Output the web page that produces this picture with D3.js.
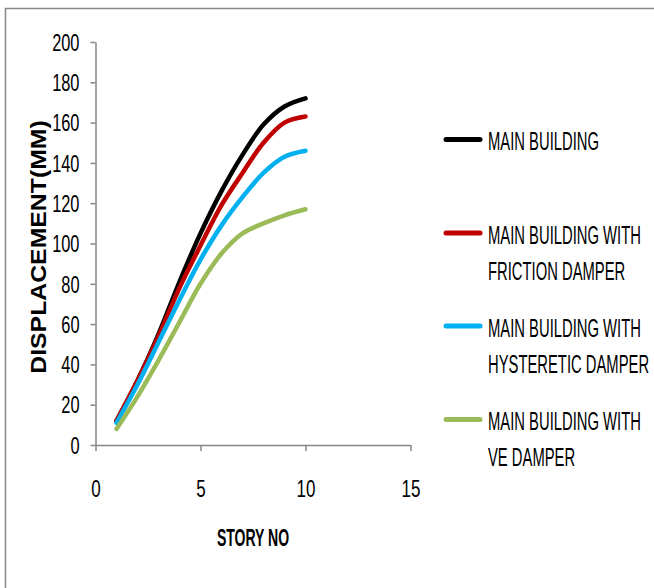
<!DOCTYPE html>
<html>
<head>
<meta charset="utf-8">
<script src="https://cdnjs.cloudflare.com/ajax/libs/d3/7.8.5/d3.min.js"></script>
<style>
  html, body { margin: 0; padding: 0; background: #fff; }
  svg { display: block; }
</style>
</head>
<body>
<div class="container"></div>
<script>
// data
const stories = [1, 2, 3, 4, 5, 6, 7, 8, 9, 10];
const mainBuilding = [12, 32, 55, 81, 105, 126, 144, 159, 168, 172];
const frictionDamper = [12, 32, 54, 78, 99, 119, 135, 150, 160, 163];
const hystereticDamper = [11, 30, 51, 72, 92, 109, 123, 135, 143, 146];
const veDamper = [8, 24, 42, 61, 80, 95, 105, 110, 114, 117];
const seriesNames = [
    ["MAIN BUILDING"],
    ["MAIN BUILDING WITH", "FRICTION DAMPER"],
    ["MAIN BUILDING WITH", "HYSTERETIC DAMPER"],
    ["MAIN BUILDING WITH", "VE DAMPER"]
];
const xTicks = [0, 5, 10, 15];
const yTicks = [0, 20, 40, 60, 80, 100, 120, 140, 160, 180, 200];

const colors = ["#000000", "#C00000", "#00B0F0", "#9BBB59"];
const axisColor = "#868686";
const font = "'Liberation Sans', Arial, sans-serif";

function drawChart() {
    let width = 654;
    let height = 588;

    let svg = d3.select(".container").append("svg")
        .attr("width", width)
        .attr("height", height);

    // chart area border (runs off the right and bottom edges)
    svg.append("rect")
        .attr("x", 5.5)
        .attr("y", 8.5)
        .attr("width", 720)
        .attr("height", 640)
        .attr("fill", "#fff")
        .attr("stroke", axisColor)
        .attr("stroke-width", 1.5);

    let x = d3.scaleLinear().domain([0, 15]).range([95.5, 410.5]);
    let y = d3.scaleLinear().domain([0, 200]).range([445, 42]);

    // y axis
    let yAxis = svg.append("g")
        .attr("transform", "translate(" + x(0) + ",0)")
        .call(d3.axisLeft(y).tickValues(yTicks).tickSize(5).tickSizeOuter(0));
    // x axis
    let xAxis = svg.append("g")
        .attr("transform", "translate(0," + y(0) + ")")
        .call(d3.axisBottom(x).tickValues(xTicks).tickSize(6).tickSizeOuter(0));

    [xAxis, yAxis].forEach(function (a) {
        a.select(".domain").attr("stroke", axisColor).attr("stroke-width", 1.5);
        a.selectAll(".tick line").attr("stroke", axisColor).attr("stroke-width", 1.5);
        a.selectAll(".tick text")
            .attr("fill", "#000")
            .style("font-family", font)
            .style("font-size", "20px");
    });

    yAxis.selectAll(".tick text")
        .attr("x", 0)
        .attr("dy", "0.36em")
        .attr("transform", "translate(-16,0) scale(0.82,1.15)");

    xAxis.selectAll(".tick text")
        .attr("y", 0)
        .attr("dy", "0.71em")
        .attr("transform", "translate(0,35) scale(0.85,1.2)");

    // axis titles
    svg.append("g")
        .attr("transform", "translate(253,537) scale(0.78,1.34)")
        .append("text")
        .attr("text-anchor", "middle")
        .attr("dy", "0.36em")
        .style("font-family", font)
        .style("font-weight", "bold")
        .style("font-size", "18px")
        .text("STORY NO");

    svg.append("g")
        .attr("transform", "translate(38,247) rotate(-90) scale(1.24,1.1)")
        .append("text")
        .attr("text-anchor", "middle")
        .attr("dy", "0.36em")
        .style("font-family", font)
        .style("font-weight", "bold")
        .style("font-size", "20px")
        .text("DISPLACEMENT(MM)");

    // lines, smoothed like the spreadsheet original
    let allSeries = [mainBuilding, frictionDamper, hystereticDamper, veDamper];
    let line = d3.line()
        .x(function (d, i) { return x(stories[i]); })
        .y(function (d) { return y(d); })
        .curve(d3.curveCatmullRom.alpha(0.5));

    svg.selectAll("path.series")
        .data(allSeries)
        .enter()
        .append("path")
        .attr("class", "series")
        .attr("d", line)
        .attr("fill", "none")
        .attr("stroke", function (d, i) { return colors[i]; })
        .attr("stroke-width", 4.5)
        .attr("stroke-linecap", "round")
        .attr("stroke-linejoin", "round");

    // legend
    let legendY = [139.5, 233, 326, 419.5];
    let legend = svg.selectAll("g.legend")
        .data(seriesNames)
        .enter()
        .append("g")
        .attr("class", "legend")
        .attr("transform", function (d, i) { return "translate(0," + legendY[i] + ")"; });

    legend.append("line")
        .attr("x1", 446)
        .attr("x2", 480)
        .attr("stroke", function (d, i) { return colors[i]; })
        .attr("stroke-width", 5)
        .attr("stroke-linecap", "round");

    legend.each(function (d) {
        let g = d3.select(this);
        d.forEach(function (t, j) {
            g.append("g")
                .attr("transform", "translate(488," + (j * 36 + 1) + ") scale(0.74,1.32)")
                .append("text")
                .attr("dy", "0.36em")
                .style("font-family", font)
                .style("font-size", "20px")
                .text(t);
        });
    });
}

drawChart();
</script>
</body>
</html>
